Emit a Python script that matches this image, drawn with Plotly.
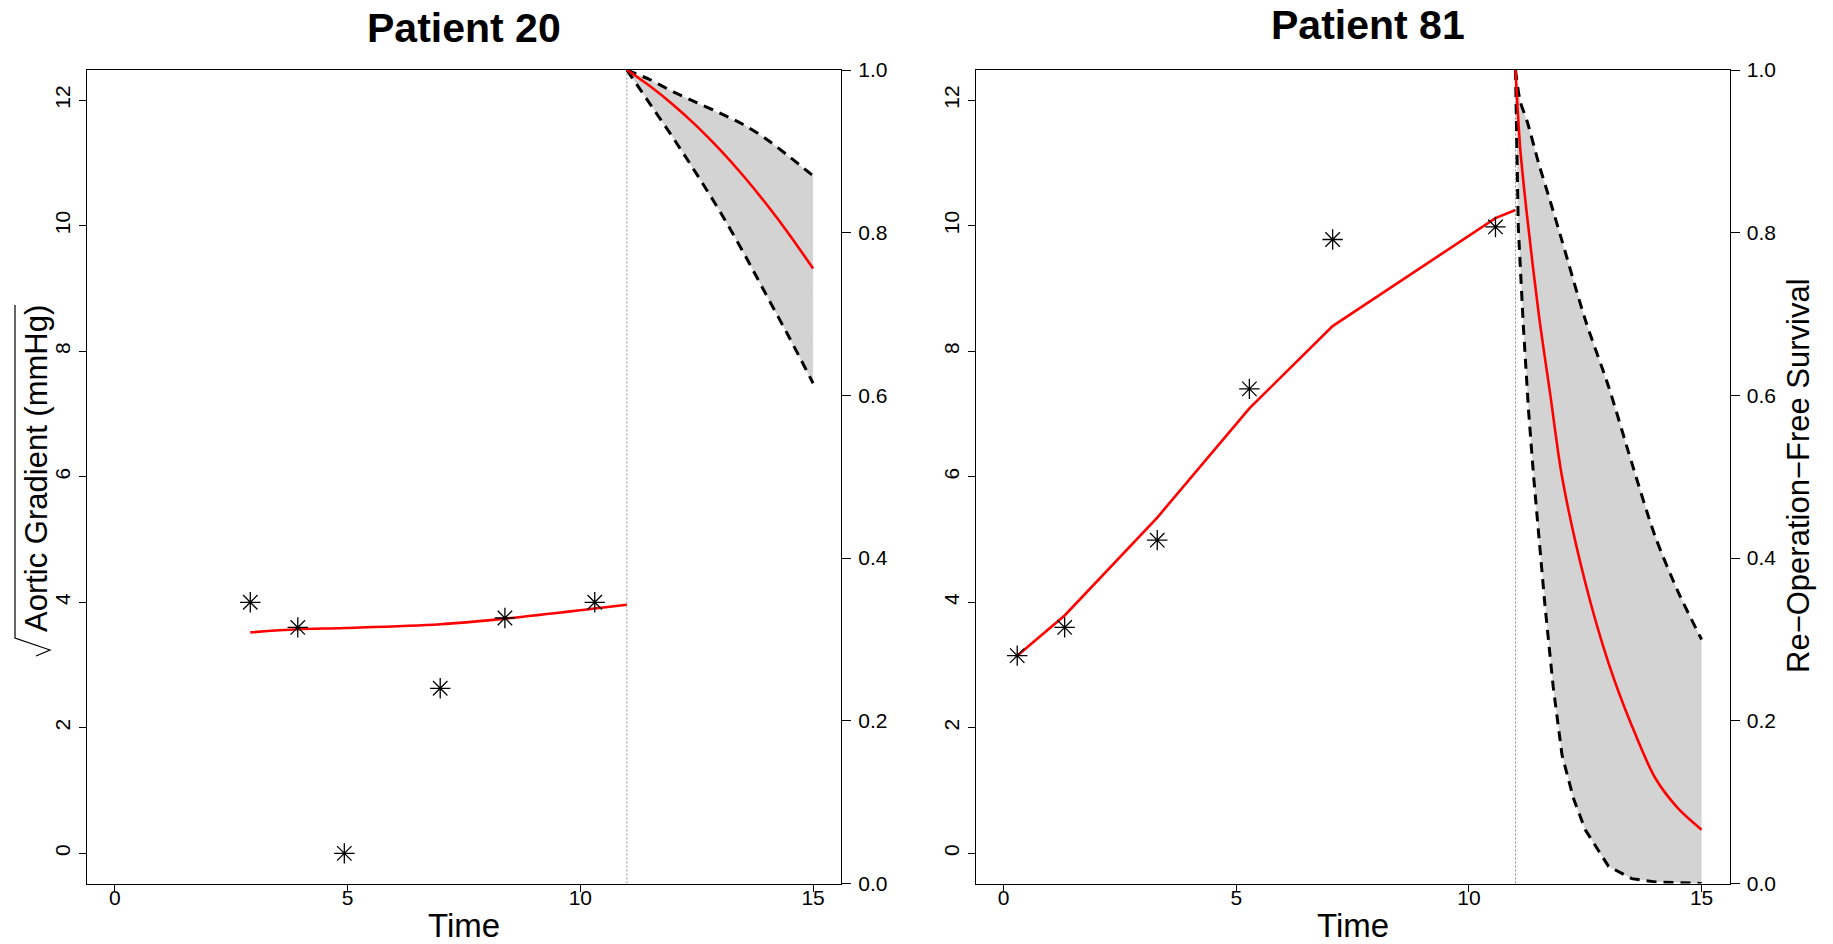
import plotly.graph_objects as go

W, H = 1833, 944

# ---------------- data ----------------
landmark_time = 11.0

# Patient 20 : longitudinal
p20_obs_time = [2.91, 3.93, 4.93, 6.99, 8.38, 10.31]
p20_obs_value = [4.00, 3.60, 0.00, 2.63, 3.75, 4.00]
p20_fit_time = [2.91, 3.93, 4.93, 6.99, 8.38, 10.31, 11.0]
p20_fit_value = [3.52, 3.57, 3.59, 3.65, 3.74, 3.90, 3.96]
# Patient 20 : survival
p20_surv_time = [11.0, 11.5, 12.0, 12.5, 13.0, 13.5, 14.0, 14.5, 15.0]
p20_surv_mean = [1.0, 0.980, 0.957, 0.931, 0.902, 0.870, 0.835, 0.797, 0.756]
p20_surv_upper = [1.0, 0.988, 0.973, 0.960, 0.947, 0.933, 0.915, 0.893, 0.870]
p20_surv_lower = [1.0, 0.958, 0.916, 0.872, 0.826, 0.776, 0.723, 0.670, 0.615]

# Patient 81 : longitudinal
p81_obs_time = [0.29, 1.31, 3.30, 5.28, 7.07, 10.57]
p81_obs_value = [3.15, 3.60, 4.99, 7.40, 9.78, 9.98]
p81_fit_time = [0.29, 1.31, 3.30, 5.28, 7.07, 10.57, 11.0]
p81_fit_value = [3.15, 3.79, 5.35, 7.09, 8.40, 10.12, 10.25]
# Patient 81 : survival
p81_mean_time = [11.0, 11.1, 11.25, 11.5, 11.75, 12.0, 12.5, 13.0, 13.5, 14.0, 14.5, 15.0]
p81_surv_mean = [1.0, 0.905, 0.82, 0.70, 0.60, 0.50, 0.37, 0.271, 0.194, 0.130, 0.092, 0.066]
p81_upper_time = [11.0, 11.1, 11.25, 11.5, 11.75, 12.0, 12.5, 13.0, 13.5, 14.0, 14.5, 15.0]
p81_surv_upper = [1.0, 0.962, 0.937, 0.885, 0.838, 0.790, 0.693, 0.611, 0.517, 0.427, 0.358, 0.300]
p81_lower_time = [11.0, 11.02, 11.06, 11.17, 11.28, 11.39, 11.5, 11.63, 11.81, 12.0, 12.25, 12.5, 13.0, 13.5, 14.0, 15.0]
p81_surv_lower = [1.0, 0.93, 0.807, 0.684, 0.582, 0.50, 0.426, 0.344, 0.242, 0.158, 0.104, 0.066, 0.021, 0.006, 0.002, 0.0]

titles = ["Patient 20", "Patient 81"]
x_ticks = [0, 5, 10, 15]
y_ticks = [0, 2, 4, 6, 8, 10, 12]
surv_ticks = [0.0, 0.2, 0.4, 0.6, 0.8, 1.0]
surv_ticktext = ["0.0", "0.2", "0.4", "0.6", "0.8", "1.0"]

# ---------------- layout helpers ----------------
def fx(px):
    return px / W

def fy(py):
    return 1 - py / H

FONT = "Liberation Sans, Arial, Helvetica, sans-serif"
RED = "#FF0000"
FILL = "#D3D3D3"
DASH = "10px,7px"

panels = [
    dict(xa="x", ya="y", ys="y2", fit_shape="spline", lo_shape="spline",
         obs_t=p20_obs_time, obs_v=p20_obs_value,
         fit_t=p20_fit_time, fit_v=p20_fit_value,
         mean_t=p20_surv_time, mean_s=p20_surv_mean,
         up_t=p20_surv_time, up_s=p20_surv_upper,
         lo_t=p20_surv_time, lo_s=p20_surv_lower),
    dict(xa="x2", ya="y3", ys="y4", fit_shape="linear", lo_shape="linear",
         obs_t=p81_obs_time, obs_v=p81_obs_value,
         fit_t=p81_fit_time, fit_v=p81_fit_value,
         mean_t=p81_mean_time, mean_s=p81_surv_mean,
         up_t=p81_upper_time, up_s=p81_surv_upper,
         lo_t=p81_lower_time, lo_s=p81_surv_lower),
]

fig = go.Figure()

for p in panels:
    # confidence band fill
    fig.add_trace(go.Scatter(
        x=list(p["up_t"]) + list(p["lo_t"])[::-1],
        y=list(p["up_s"]) + list(p["lo_s"])[::-1],
        xaxis=p["xa"], yaxis=p["ys"], mode="lines", fill="toself",
        fillcolor=FILL, line=dict(width=0, color=FILL), hoverinfo="skip",
        showlegend=False))
    # landmark dotted line
    fig.add_trace(go.Scatter(
        x=[landmark_time, landmark_time], y=[0, 1],
        xaxis=p["xa"], yaxis=p["ys"], mode="lines",
        line=dict(color="#8C8C8C", width=1, dash="2px,2px"),
        showlegend=False, hoverinfo="skip"))
    # bounds
    fig.add_trace(go.Scatter(
        x=p["up_t"], y=p["up_s"], xaxis=p["xa"], yaxis=p["ys"], mode="lines",
        line=dict(color="black", width=3, dash=DASH, shape="spline", smoothing=0.8),
        showlegend=False))
    fig.add_trace(go.Scatter(
        x=p["lo_t"], y=p["lo_s"], xaxis=p["xa"], yaxis=p["ys"], mode="lines",
        line=dict(color="black", width=3, dash=DASH, shape=p["lo_shape"]),
        showlegend=False))
    # mean survival
    fig.add_trace(go.Scatter(
        x=p["mean_t"], y=p["mean_s"], xaxis=p["xa"], yaxis=p["ys"], mode="lines",
        line=dict(color=RED, width=2.6, shape="spline", smoothing=0.8),
        showlegend=False))
    # fitted longitudinal
    fig.add_trace(go.Scatter(
        x=p["fit_t"], y=p["fit_v"], xaxis=p["xa"], yaxis=p["ya"], mode="lines",
        line=dict(color=RED, width=2.6, shape=p["fit_shape"]), showlegend=False))
    # observations
    fig.add_trace(go.Scatter(
        x=p["obs_t"], y=p["obs_v"], xaxis=p["xa"], yaxis=p["ya"], mode="markers",
        marker=dict(symbol="asterisk-open", size=17, color="black",
                    line=dict(color="black", width=1.3)),
        showlegend=False))

x_common = dict(range=[-0.6, 15.6], tickmode="array", tickvals=x_ticks,
                ticks="outside", ticklen=7, tickwidth=1.2, tickcolor="black",
                showline=True, linecolor="black", linewidth=1.2, mirror=True,
                showgrid=False, zeroline=False, automargin=False,
                tickfont=dict(family=FONT, size=21, color="black"),
                ticklabelstandoff=-12)
y_common = dict(range=[-0.48, 12.48], tickmode="array", tickvals=y_ticks,
                tickangle=-90, ticks="outside", ticklen=7, tickwidth=1.2,
                tickcolor="black", showline=True, linecolor="black", linewidth=1.2,
                mirror=True, showgrid=False, zeroline=False, automargin=False,
                tickfont=dict(family=FONT, size=21, color="black"))
s_common = dict(range=[0, 1], tickmode="array", tickvals=surv_ticks,
                ticktext=surv_ticktext, side="right", ticks="outside", ticklen=9,
                tickwidth=1.2, tickcolor="black", showline=True, linecolor="black",
                linewidth=1.2, showgrid=False, zeroline=False, automargin=False,
                tickfont=dict(family=FONT, size=21, color="black"),
                ticklabelstandoff=3)

y_dom = [fy(883.5), fy(70)]

fig.update_layout(
    width=W, height=H, template="none",
    paper_bgcolor="white", plot_bgcolor="white",
    margin=dict(l=0, r=0, t=0, b=0),
    showlegend=False,
    xaxis=dict(domain=[fx(86.9), fx(841)], anchor="y", **x_common),
    yaxis=dict(domain=y_dom, anchor="x", **y_common),
    yaxis2=dict(overlaying="y", anchor="x", **s_common),
    xaxis2=dict(domain=[fx(975.8), fx(1729.5)], anchor="y3", **x_common),
    yaxis3=dict(domain=y_dom, anchor="x2", **y_common),
    yaxis4=dict(overlaying="y3", anchor="x2", **s_common),
)

annotations = [
    dict(text="<b>" + titles[0] + "</b>", x=fx(463.5), y=fy(28), font=dict(size=41)),
    dict(text="<b>" + titles[1] + "</b>", x=fx(1368), y=fy(25), font=dict(size=41)),
    dict(text="Time", x=fx(464), y=fy(925), font=dict(size=33)),
    dict(text="Time", x=fx(1353), y=fy(925), font=dict(size=33)),
    dict(text="Aortic Gradient (mmHg)", x=fx(36), y=fy(469), textangle=-90,
         font=dict(size=31)),
    dict(text="Re\u2212Operation\u2212Free Survival", x=fx(1798), y=fy(476),
         textangle=-90, font=dict(size=31)),
]
for a in annotations:
    a.update(xref="paper", yref="paper", showarrow=False,
             xanchor="center", yanchor="middle")
    a["font"] = dict(family=FONT, color="black", **a["font"])
fig.update_layout(annotations=annotations)

# square-root sign for the y-axis label (rotated)
rad = [(36, 656), (50, 650), (15, 638), (15, 305)]
path = "M " + " L ".join(f"{fx(a):.5f},{fy(b):.5f}" for a, b in rad)
fig.add_shape(type="path", path=path, xref="paper", yref="paper",
              line=dict(color="black", width=1.2))

fig.write_html(
    "out.html",
    config={"displayModeBar": False},
    post_script="document.body.style.margin='0';document.body.style.padding='0';"
                "document.body.style.overflow='hidden';",
)
